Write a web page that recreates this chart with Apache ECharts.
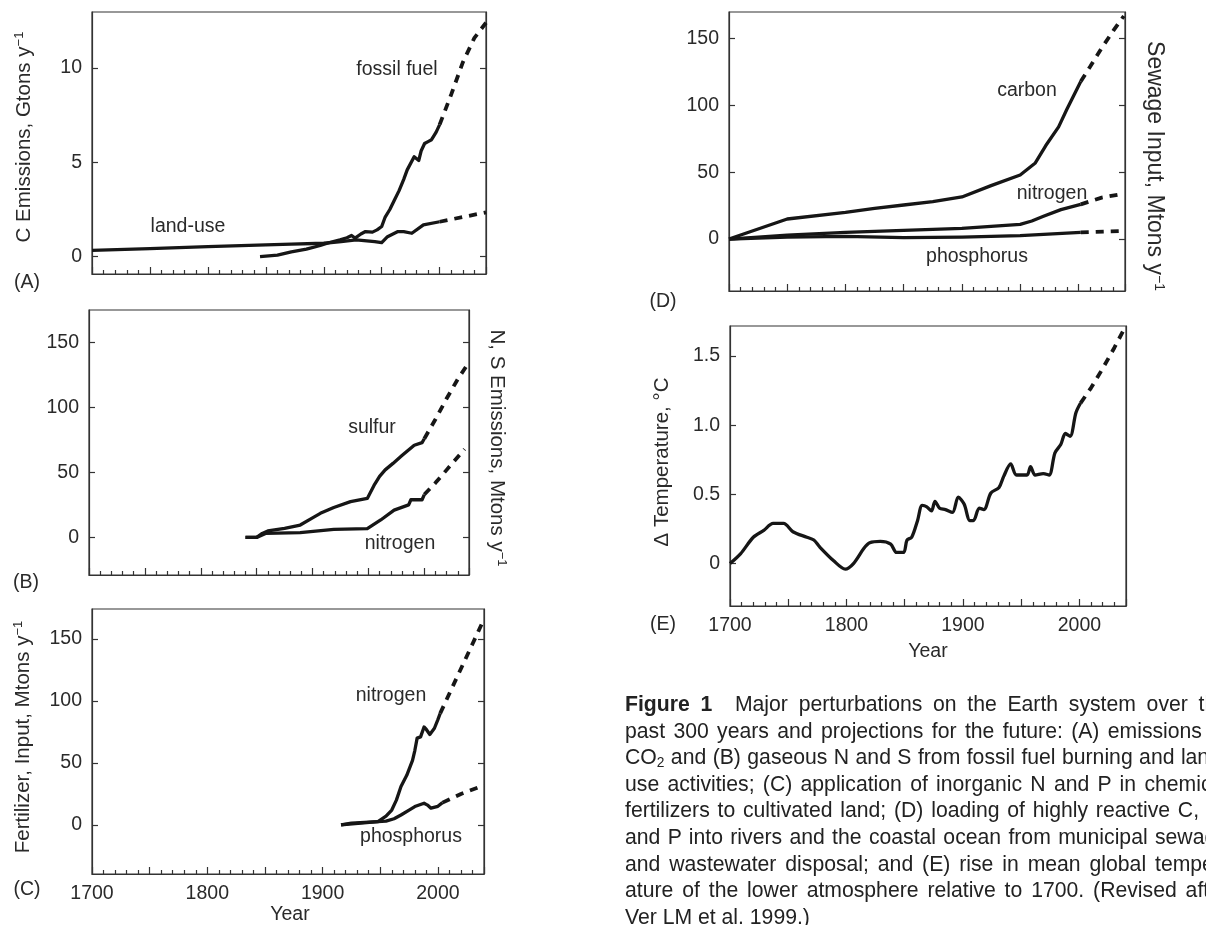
<!DOCTYPE html>
<html>
<head>
<meta charset="utf-8">
<script src="https://cdn.jsdelivr.net/npm/echarts@6/dist/echarts.min.js"></script>
<style>
  html, body { margin: 0; padding: 0; background: #fff; overflow: hidden; width: 1206px; height: 925px; }
  #chart { position: absolute; left: 0; top: 0; width: 1206px; height: 925px; }
  #caption {
    position: absolute; left: 625px; top: 691px; width: 603px;
    font-family: "Liberation Sans", Arial, sans-serif; font-size: 21.2px;
    line-height: 26.6px; color: #222;
  }
  #caption .ln { text-align: justify; text-align-last: justify; }
  #caption .last { text-align: left; text-align-last: left; }
  #caption b { margin-right: 12px; }
  #caption sub { font-size: 0.65em; vertical-align: -0.25em; line-height: 0; }
</style>
</head>
<body>
<div id="chart"></div>
<div id="caption">
  <div class="ln"><b>Figure 1</b> Major perturbations on the Earth system over the</div>
  <div class="ln">past 300 years and projections for the future: (A) emissions of</div>
  <div class="ln">CO<sub>2</sub> and (B) gaseous N and S from fossil fuel burning and land-</div>
  <div class="ln">use activities; (C) application of inorganic N and P in chemical</div>
  <div class="ln">fertilizers to cultivated land; (D) loading of highly reactive C, N,</div>
  <div class="ln">and P into rivers and the coastal ocean from municipal sewage</div>
  <div class="ln">and wastewater disposal; and (E) rise in mean global temper-</div>
  <div class="ln">ature of the lower atmosphere relative to 1700. (Revised after</div>
  <div class="ln last">Ver LM et al. 1999.)</div>
</div>
<script>
// tick labels
const yearLabels = [1700, 1800, 1900, 2000];
const ticksA = [0, 5, 10];
const ticksMt = [0, 50, 100, 150];
const ticksT = [0, 0.5, 1.0, 1.5];

// (A) C emissions, Gtons/yr
const fossilFuel = [[1845,0],[1860,0.08],[1872,0.25],[1885,0.4],[1897,0.59],[1905,0.75],[1914,0.89],[1920,1.0],[1924,1.12],[1927,0.98],[1932,1.2],[1936,1.33],[1942,1.3],[1946,1.42],[1950,1.6],[1953,2.1],[1957,2.5],[1961,3.0],[1965,3.5],[1969,4.1],[1972,4.6],[1978,5.3],[1982,5.1],[1984,5.6],[1987,6.0],[1990,6.1],[1993,6.2],[1997,6.6],[2000,7.0]];
const fossilFuelProj = [[2000,7.0],[2010,8.6],[2020,10.3],[2030,11.6],[2040,12.4]];
const landUse = [[1700,0.33],[1750,0.43],[1800,0.53],[1850,0.62],[1872,0.66],[1900,0.71],[1915,0.8],[1928,0.89],[1944,0.8],[1950,0.74],[1955,1.06],[1964,1.33],[1969,1.33],[1976,1.24],[1986,1.68],[2000,1.85]];
const landUseProj = [[2000,1.85],[2020,2.1],[2040,2.35]];

// (B) N, S emissions, Mtons/yr
const sulfurEm = [[1840,0],[1850,0],[1855,3],[1860,5],[1875,7],[1889,9.5],[1900,15],[1907,18.5],[1919,23],[1934,27.5],[1949,30],[1955,40],[1960,47],[1965,52],[1972,57],[1980,63],[1991,71],[1998,73],[2000,76]];
const sulfurEmProj = [[2000,76],[2010,91],[2020,107],[2030,122],[2040,135]];
const nitrogenEm = [[1840,0],[1850,0],[1858,3],[1889,3.6],[1919,6.2],[1949,6.7],[1961,13.4],[1973,21],[1986,25],[1988,29],[1998,29],[2000,33]];
const nitrogenEmProj = [[2000,33],[2010,42],[2020,52],[2036,68]];

// (C) fertilizer input, Mtons/yr
const nitrogenFert = [[1916,0],[1925,1.5],[1948,2.7],[1955,7],[1960,12],[1964,20],[1968,31],[1973,40],[1978,52],[1980,60],[1982,70],[1985,71],[1988,79],[1990,77],[1993,73],[1997,78],[2000,85],[2002,90]];
const nitrogenFertProj = [[2002,90],[2010,106],[2020,126],[2030,146],[2038,162]];
const phosphorusFert = [[1916,0],[1948,2.7],[1955,3],[1962,5],[1968,8],[1975,12],[1980,14.8],[1988,17.5],[1991,16],[1994,13.5],[2000,15],[2004,18]];
const phosphorusFertProj = [[2004,18],[2020,25],[2040,32]];

// (D) sewage input, Mtons/yr
const carbonSew = [[1700,0],[1750,15],[1800,20],[1825,23],[1850,25.5],[1875,28],[1900,31.5],[1925,40],[1950,48],[1963,57],[1972,70],[1983,84],[1990,97],[2002,118]];
const carbonSewProj = [[2002,118],[2010,129],[2020,143],[2030,156],[2039,167]];
const nitrogenSew = [[1700,0],[1750,3],[1800,5],[1850,6.5],[1900,8],[1950,11],[1960,13.5],[1970,17],[1985,22],[2002,26]];
const nitrogenSewProj = [[2002,26],[2020,31],[2039,34]];
const phosphorusSew = [[1700,0],[1750,1.5],[1800,2],[1850,1],[1900,1.5],[1950,2.5],[2002,5]];
const phosphorusSewProj = [[2002,5],[2039,6]];

// (E) temperature change relative to 1700, degC
const tempObs = [[1700,0],[1709,0.07],[1720,0.19],[1729,0.24],[1737,0.29],[1746,0.29],[1754,0.23],[1766,0.19],[1772,0.17],[1777,0.12],[1789,0.02],[1799,-0.04],[1806,0],[1815,0.11],[1820,0.15],[1829,0.16],[1838,0.14],[1843,0.08],[1849,0.08],[1852,0.17],[1856,0.19],[1861,0.31],[1865,0.42],[1869,0.41],[1873,0.38],[1876,0.45],[1880,0.4],[1885,0.39],[1891,0.37],[1896,0.48],[1901,0.43],[1906,0.31],[1909,0.31],[1914,0.4],[1918,0.39],[1924,0.51],[1931,0.55],[1935,0.63],[1941,0.72],[1946,0.64],[1955,0.64],[1958,0.7],[1962,0.64],[1969,0.65],[1974,0.64],[1979,0.8],[1984,0.86],[1988,0.94],[1992,0.92],[1997,1.09],[2001,1.16]];
const tempProj = [[2001,1.16],[2010,1.27],[2020,1.41],[2030,1.56],[2040,1.72]];

const FONT = '"Liberation Sans", Arial, sans-serif';
const INK = '#161616';
const TXT = '#2a2a2a';

const grids = [
  { left: 92, top: 12, width: 394, height: 262 },
  { left: 89, top: 310, width: 380, height: 265 },
  { left: 92, top: 609, width: 392, height: 265 },
  { left: 729, top: 12, width: 396, height: 279 },
  { left: 730, top: 326, width: 396, height: 280 }
];
const yRanges = [[-0.92, 12.97], [-29, 175.2], [-39.6, 174.2], [-38.9, 170], [-0.307, 1.717]];
const yTicks = [ticksA, ticksMt, ticksMt, ticksMt, ticksT];
const showYear = [false, false, true, false, true];
const rightTicks = [true, true, true, true, false];

const chart = echarts.init(document.getElementById('chart'), null, { renderer: 'canvas' });

const xAxis = grids.map((g, i) => ({
  type: 'value', gridIndex: i, min: 1700, max: 2040, interval: 50,
  axisLine: { show: true, onZero: false, lineStyle: { color: '#333', width: 1.2 } },
  axisTick: { show: true, inside: true, length: 7, lineStyle: { color: '#333', width: 1.2 } },
  minorTick: { show: true, splitNumber: 5, length: 4, lineStyle: { color: '#333', width: 1.2 } },
  splitLine: { show: false },
  axisLabel: {
    show: showYear[i], customValues: yearLabels, margin: 10,
    fontSize: 19.5, fontFamily: FONT, color: TXT,
    formatter: v => String(v)
  }
}));

const yAxis = [];
grids.forEach((g, i) => {
  const base = {
    type: 'value', gridIndex: i, min: yRanges[i][0], max: yRanges[i][1],
    splitLine: { show: false },
    axisLine: { show: true, onZero: false, lineStyle: { color: '#333', width: 1.2 } }
  };
  yAxis.push(Object.assign({}, base, {
    position: 'left',
    axisTick: { show: true, inside: true, length: 6, customValues: yTicks[i], lineStyle: { color: '#333', width: 1.2 } },
    axisLabel: {
      customValues: yTicks[i], margin: 10, fontSize: 19.5, fontFamily: FONT, color: TXT,
      formatter: v => (i === 4 && v !== 0) ? v.toFixed(1) : String(v)
    }
  }));
  yAxis.push(Object.assign({}, base, {
    position: 'right',
    axisTick: { show: rightTicks[i], inside: true, length: 6, customValues: yTicks[i], lineStyle: { color: '#333', width: 1.2 } },
    axisLabel: { show: false }
  }));
});

function curve(data, gi, dashed) {
  return {
    type: 'line', xAxisIndex: gi, yAxisIndex: gi * 2, data: data,
    showSymbol: false, symbol: 'none', silent: true,
    smooth: gi === 4 && !dashed ? 0.3 : false,
    lineStyle: dashed
      ? { color: INK, width: 3.8, type: [8, 7], cap: 'butt' }
      : { color: INK, width: 3.3, join: 'round' }
  };
}

const series = [
  curve(fossilFuel, 0), curve(fossilFuelProj, 0, true),
  curve(landUse, 0), curve(landUseProj, 0, true),
  curve(sulfurEm, 1), curve(sulfurEmProj, 1, true),
  curve(nitrogenEm, 1), curve(nitrogenEmProj, 1, true),
  curve(nitrogenFert, 2), curve(nitrogenFertProj, 2, true),
  curve(phosphorusFert, 2), curve(phosphorusFertProj, 2, true),
  curve(carbonSew, 3), curve(carbonSewProj, 3, true),
  curve(nitrogenSew, 3), curve(nitrogenSewProj, 3, true),
  curve(phosphorusSew, 3), curve(phosphorusSewProj, 3, true),
  curve(tempObs, 4), curve(tempProj, 4, true)
];

function label(text, x, y) {
  return { type: 'text', x: x, y: y, silent: true,
    style: { text: text, fontSize: 19.5, fontFamily: FONT, fill: TXT, align: 'center', verticalAlign: 'middle' } };
}
function title(main, sup, x, y, rot, size) {
  const fs = size || 20.5;
  return { type: 'text', x: x, y: y, rotation: rot, silent: true,
    style: {
      text: '{m|' + main + '}' + (sup ? '{s|' + sup + '}' : ''),
      align: 'center', verticalAlign: 'middle', fill: TXT,
      rich: {
        m: { fontSize: fs, fontFamily: FONT, fill: TXT, lineHeight: fs + 1.5 },
        s: { fontSize: Math.round(fs * 0.63), fontFamily: FONT, fill: TXT, lineHeight: Math.round(fs * 0.63), verticalAlign: 'top' }
      }
    } };
}

const graphic = [
  label('fossil fuel', 397, 70), label('land-use', 188, 227),
  label('sulfur', 372, 428), label('nitrogen', 400, 544),
  label('nitrogen', 391, 696), label('phosphorus', 411, 837),
  label('carbon', 1027, 91), label('nitrogen', 1052, 194), label('phosphorus', 977, 257),
  label('(A)', 27, 283), label('(B)', 26, 583), label('(C)', 27, 890),
  label('(D)', 663, 302), label('(E)', 663, 625),
  label('Year', 290, 915), label('Year', 928, 652),
  title('C Emissions, Gtons y', '\u22121', 24, 137, Math.PI / 2),
  title('Fertilizer, Input, Mtons y', '\u22121', 23, 737, Math.PI / 2),
  title('\u0394 Temperature, \u00b0C', '', 662, 462, Math.PI / 2),
  title('N, S Emissions, Mtons y', '\u22121', 497, 448, -Math.PI / 2),
  title('Sewage Input, Mtons y', '\u22121', 1154, 166, -Math.PI / 2, 23)
];

chart.setOption({
  animation: false,
  backgroundColor: '#fff',
  grid: grids.map(g => Object.assign({ show: true, borderColor: '#333', borderWidth: 1.2, containLabel: false }, g)),
  xAxis: xAxis,
  yAxis: yAxis,
  series: series,
  graphic: graphic
});
</script>
</body>
</html>
